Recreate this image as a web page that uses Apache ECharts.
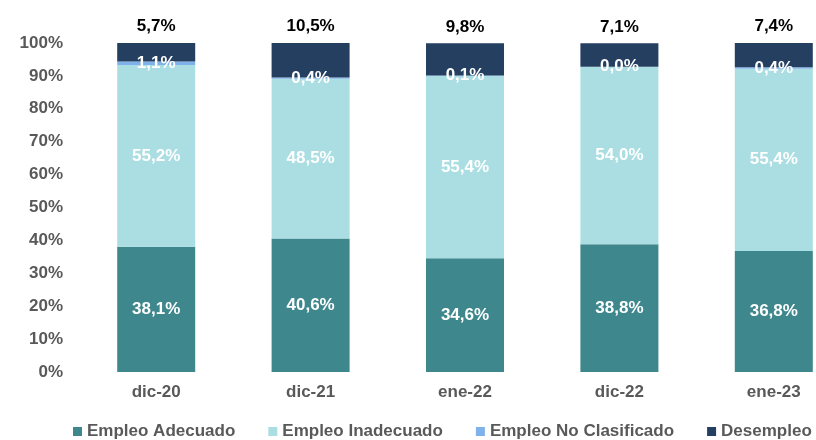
<!DOCTYPE html>
<html>
<head>
<meta charset="utf-8">
<script src="https://cdn.jsdelivr.net/npm/echarts@6/dist/echarts.min.js"></script>
<style>
  html, body { margin: 0; padding: 0; background: #fff; }
  #chart { width: 816px; height: 440px; }
</style>
</head>
<body>
<div id="chart"></div>
<script>
const categories = ["dic-20", "dic-21", "ene-22", "dic-22", "ene-23"];
const adecuado = [38.1, 40.6, 34.6, 38.8, 36.8];
const inadecuado = [55.2, 48.5, 55.4, 54.0, 55.4];
const noClasificado = [1.1, 0.4, 0.1, 0.0, 0.4];
const desempleo = [5.7, 10.5, 9.8, 7.1, 7.4];

const font = "'Liberation Sans', Arial, sans-serif";
const pct = (v) => v.toFixed(1).replace(".", ",") + "%";

function bar(name, data, color, label) {
  return {
    type: "bar",
    name,
    stack: "total",
    barWidth: 78,
    data,
    itemStyle: { color },
    label: Object.assign(
      {
        show: true,
        fontFamily: font,
        fontWeight: "bold",
        fontSize: 17,
        formatter: (p) => pct(p.value),
      },
      label
    ),
  };
}

const chart = echarts.init(document.getElementById("chart"));
chart.setOption({
  animation: false,
  backgroundColor: "#fff",
  // the last category runs past the right edge of the picture
  grid: { left: 79, width: 772, top: 43, height: 329, outerBoundsMode: "none", containLabel: false },
  legend: {
    left: 73,
    top: 423,
    padding: 0,
    itemWidth: 9,
    itemHeight: 9,
    itemGap: 33,
    icon: "rect",
    textStyle: { color: "#595959", fontFamily: font, fontWeight: "bold", fontSize: 17 },
  },
  xAxis: {
    type: "category",
    data: categories,
    axisLine: { show: false },
    axisTick: { show: false },
    axisLabel: { color: "#595959", fontFamily: font, fontWeight: "bold", fontSize: 17, margin: 12 },
  },
  yAxis: {
    type: "value",
    min: 0,
    max: 100,
    interval: 10,
    splitLine: { show: false },
    axisLine: { show: false },
    axisLabel: {
      color: "#595959",
      fontFamily: font,
      fontWeight: "bold",
      fontSize: 17,
      margin: 16,
      formatter: "{value}%",
    },
  },
  series: [
    bar("Empleo Adecuado", adecuado, "#3E878C", { position: "inside", color: "#fff" }),
    bar("Empleo Inadecuado", inadecuado, "#ABDEE2", { position: "inside", color: "#fff" }),
    bar("Empleo No Clasificado", noClasificado, "#7FB2EA", { position: "inside", color: "#fff" }),
    bar("Desempleo", desempleo, "#243F60", { position: "top", color: "#000", distance: 8 }),
  ],
});
</script>
</body>
</html>
